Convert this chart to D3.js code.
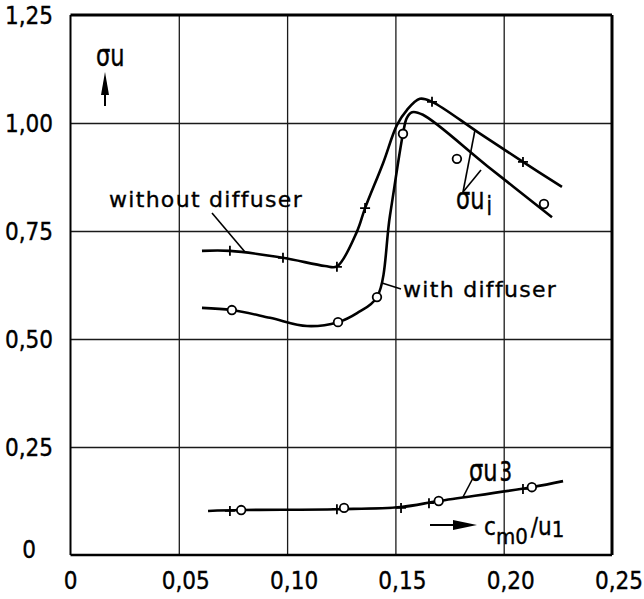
<!DOCTYPE html>
<meta charset="utf-8" />
<head>
  <script src="https://d3js.org/d3.v7.min.js"></script>
  <style>
    body { margin: 0; background: #fff; }
    text { font-family: "DejaVu Sans Condensed", "DejaVu Sans", sans-serif; fill: #000; stroke: #000; stroke-width: 0.35px; }
    .note { font-family: "DejaVu Sans", sans-serif; font-size: 22px; letter-spacing: 1.3px; }
  </style>
</head>
<body>
  <div id="my_data"></div>
</body>
<script>
  // tick values and their labels (decimal comma as in the original)
  var xTicks = [0, 0.05, 0.1, 0.15, 0.2, 0.25];
  var xTickLabels = ["0", "0,05", "0,10", "0,15", "0,20", "0,25"];
  var yTicks = [0, 0.25, 0.5, 0.75, 1.0, 1.25];
  var yTickLabels = ["0", "0,25", "0,50", "0,75", "1,00", "1,25"];

  // sigma_u, without diffuser: curve and "+" measuring points
  var withoutCurve = [
    [0.0607, 0.704], [0.0736, 0.704], [0.0981, 0.688], [0.1175, 0.669],
    [0.123, 0.668], [0.1322, 0.748], [0.136, 0.803],
    [0.1443, 0.907], [0.1507, 0.995], [0.1553, 1.03], [0.1613, 1.056],
    [0.1669, 1.049], [0.188, 0.979], [0.2089, 0.91], [0.2269, 0.852]
  ];
  var withoutPlus = [
    [0.0736, 0.704], [0.0981, 0.688], [0.123, 0.667], [0.136, 0.803],
    [0.1669, 1.049], [0.2089, 0.91]
  ];

  // sigma_u, with diffuser: curve and "o" measuring points
  var withCurve = [
    [0.0607, 0.572], [0.0745, 0.567], [0.0921, 0.549], [0.1092, 0.53],
    [0.1235, 0.539], [0.1323, 0.56], [0.1415, 0.597],
    [0.1475, 0.786], [0.1535, 0.975], [0.1553, 1.012],
    [0.1577, 1.025], [0.1627, 1.019], [0.1925, 0.9], [0.2223, 0.782]
  ];
  var withCircle = [
    [0.0745, 0.567], [0.1235, 0.539], [0.1415, 0.597], [0.1535, 0.975],
    [0.1784, 0.917], [0.2186, 0.8125]
  ];

  // sigma_u3 (both cases)
  var u3Curve = [
    [0.0635, 0.102], [0.0788, 0.104], [0.123, 0.106], [0.1526, 0.111],
    [0.17, 0.125], [0.213, 0.157], [0.2274, 0.171]
  ];
  var u3Plus = [[0.0736, 0.102], [0.123, 0.106], [0.1526, 0.109], [0.1655, 0.12], [0.2089, 0.153]];
  var u3Circle = [[0.0788, 0.104], [0.1263, 0.109], [0.17, 0.125], [0.213, 0.157]];

  var W = 644, H = 599;
  var margin = { top: 15, right: 32, bottom: 44, left: 70.5 },
    width = W - margin.left - margin.right,
    height = H - margin.top - margin.bottom;

  var svg = d3.select("#my_data").append("svg")
    .attr("width", W).attr("height", H);
  var g = svg.append("g")
    .attr("transform", "translate(" + margin.left + "," + margin.top + ")");

  var x = d3.scaleLinear().domain([0, 0.25]).range([0, width]);
  var y = d3.scaleLinear().domain([0, 1.25]).range([height, 0]);

  // grid lines
  g.append("g")
    .attr("transform", "translate(0," + height + ")")
    .call(d3.axisBottom(x).tickValues(xTicks.slice(1, -1)).tickSize(-height).tickFormat(""))
    .call(function (a) {
      a.select(".domain").remove();
      a.selectAll("line").attr("stroke", "#1a1a1a").attr("stroke-width", 1.3);
    });
  g.append("g")
    .call(d3.axisLeft(y).tickValues(yTicks.slice(1, -1)).tickSize(-width).tickFormat(""))
    .call(function (a) {
      a.select(".domain").remove();
      a.selectAll("line").attr("stroke", "#1a1a1a").attr("stroke-width", 1.3);
    });

  // frame
  g.append("line").attr("x1", 0).attr("x2", width).attr("y1", 0).attr("y2", 0)
    .attr("stroke", "#000").attr("stroke-width", 3);
  g.append("line").attr("x1", width).attr("x2", width).attr("y1", 0).attr("y2", height)
    .attr("stroke", "#000").attr("stroke-width", 3);
  g.append("line").attr("x1", 0).attr("x2", 0).attr("y1", 0).attr("y2", height)
    .attr("stroke", "#000").attr("stroke-width", 2);
  g.append("line").attr("x1", 0).attr("x2", width).attr("y1", height).attr("y2", height)
    .attr("stroke", "#000").attr("stroke-width", 2.6);

  // tick labels, aligned on the decimal comma
  svg.selectAll(".xlab").data(xTicks).enter().append("text")
    .attr("x", function (d, i) { return margin.left + x(d) + (i == 0 ? 0 : 7); })
    .attr("y", margin.top + height + 34)
    .attr("text-anchor", "middle")
    .style("font-size", "24px")
    .text(function (d, i) { return xTickLabels[i]; });
  svg.selectAll(".ylab").data(yTicks).enter().append("text")
    .attr("x", 29)
    .attr("y", function (d, i) { return margin.top + y(d) + (i == 0 ? 3 : 8.5); })
    .attr("text-anchor", "middle")
    .style("font-size", "24px")
    .text(function (d, i) { return yTickLabels[i]; });

  // curves
  var line = d3.line()
    .x(function (d) { return x(d[0]); })
    .y(function (d) { return y(d[1]); })
    .curve(d3.curveCatmullRom.alpha(0.5));
  [withoutCurve, withCurve, u3Curve].forEach(function (c) {
    g.append("path").datum(c).attr("d", line)
      .attr("fill", "none").attr("stroke", "#000").attr("stroke-width", 2.6)
      .attr("stroke-linejoin", "round");
  });

  function plusMarks(data) {
    var p = g.append("g");
    data.forEach(function (d) {
      var cx = x(d[0]), cy = y(d[1]);
      p.append("path")
        .attr("d", "M" + (cx - 5) + "," + cy + "H" + (cx + 5) + "M" + cx + "," + (cy - 5) + "V" + (cy + 5))
        .attr("stroke", "#000").attr("stroke-width", 1.8);
    });
  }
  function circleMarks(data) {
    g.append("g").selectAll("circle").data(data).enter().append("circle")
      .attr("cx", function (d) { return x(d[0]); })
      .attr("cy", function (d) { return y(d[1]); })
      .attr("r", 4.3)
      .attr("fill", "#fff").attr("stroke", "#000").attr("stroke-width", 1.8);
  }
  plusMarks(withoutPlus);
  plusMarks(u3Plus);
  circleMarks(withCircle);
  circleMarks(u3Circle);

  // annotations
  function leader(x1, y1, x2, y2) {
    svg.append("line").attr("x1", x1).attr("y1", y1).attr("x2", x2).attr("y2", y2)
      .attr("stroke", "#000").attr("stroke-width", 1.6);
  }
  function sigma(px, py, sub, subDy) {
    var t = svg.append("text")
      .attr("transform", "translate(" + px + "," + py + ") scale(1,1.2)")
      .style("font-size", "25px");
    t.append("tspan").text("σu");
    if (sub) t.append("tspan").attr("dx", 2).attr("dy", subDy).style("font-size", "22px").text(sub);
    return t;
  }

  svg.append("text").attr("class", "note").attr("x", 109).attr("y", 207).text("without diffuser");
  leader(212, 213, 245, 252);
  svg.append("text").attr("class", "note").attr("x", 403).attr("y", 297).text("with diffuser");
  leader(382, 283, 401, 289);

  sigma(96, 66);
  svg.append("line").attr("x1", 105).attr("x2", 105).attr("y1", 106).attr("y2", 88)
    .attr("stroke", "#000").attr("stroke-width", 2);
  svg.append("path").attr("d", "M105,72L101,95L109,95Z").attr("fill", "#000");

  sigma(456, 209, "i", 5);
  leader(463, 192, 475, 130);
  leader(463, 192, 481, 170);

  sigma(469, 481, "3", 0);
  leader(463, 497, 473, 478);

  // abscissa name with arrow
  svg.append("line").attr("x1", 430).attr("x2", 460).attr("y1", 525).attr("y2", 525)
    .attr("stroke", "#000").attr("stroke-width", 2);
  svg.append("path").attr("d", "M477,525L453,520L453,530Z").attr("fill", "#000");
  var xt = svg.append("text").attr("x", 484).attr("y", 535).style("font-size", "24px");
  xt.append("tspan").text("c");
  xt.append("tspan").attr("dy", 9).style("font-size", "22px").text("m0");
  xt.append("tspan").attr("dy", -9).attr("dx", 3).text("/u");
  xt.append("tspan").attr("dy", 2).style("font-size", "22px").text("1");
</script>
